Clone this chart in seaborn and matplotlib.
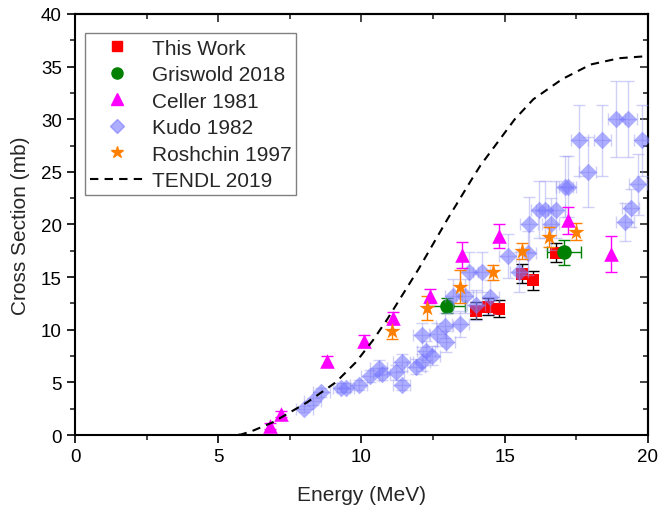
import numpy as np
import pandas as pd
import seaborn as sns
import matplotlib.pyplot as plt
from matplotlib.lines import Line2D
from matplotlib.ticker import MultipleLocator

# data
this_e = [14.0, 14.4, 14.8, 15.6, 16.0, 16.8]
this_s = [11.8, 12.2, 12.0, 15.3, 14.7, 17.3]
this_err = [0.8, 0.8, 0.8, 0.9, 0.9, 0.9]

gris_e = [12.97, 17.08]
gris_s = [12.3, 17.35]
gris_xerr = [0.65, 0.6]
gris_err = [0.7, 1.2]

celler_e = [6.8, 7.2, 8.8, 10.1, 11.1, 12.4, 13.5, 14.8, 17.2, 18.7]
celler_s = [0.85, 2.0, 7.05, 8.95, 11.1, 13.2, 17.1, 18.9, 20.4, 17.2]
celler_err = [0.3, 0.3, 0.45, 0.55, 0.55, 0.7, 1.2, 1.15, 1.3, 1.7]

kudo_e = [8.0, 8.3, 8.6, 9.3, 9.45, 9.9, 10.3, 10.6, 10.7, 11.2, 11.4, 11.4,
          11.9, 12.1, 12.25, 12.45, 12.1, 12.65, 12.95, 12.9, 13.45, 13.2, 13.6,
          14.0, 13.75, 14.2, 14.5, 15.1, 15.5, 15.8, 15.85, 16.2, 16.4, 16.8,
          16.6, 17.1, 17.2, 17.6, 17.9, 18.4, 18.9, 19.3, 19.8, 19.65, 19.4, 19.2]
kudo_s = [2.5, 3.2, 4.05, 4.5, 4.5, 4.75, 5.6, 6.4, 5.8, 5.95, 4.75, 6.9,
          6.5, 6.9, 8.0, 7.55, 9.5, 9.55, 8.85, 10.4, 10.55, 13.2, 13.2,
          12.35, 15.45, 15.45, 13.1, 17.0, 15.45, 17.3, 20.0, 21.4, 21.4, 21.4,
          20.05, 23.6, 23.6, 28.0, 25.0, 28.0, 30.0, 30.0, 28.0, 23.8, 21.6, 20.2]
kudo_err = [0.3, 0.35, 0.4, 0.4, 0.4, 0.45, 0.6, 0.7, 0.6, 0.7, 0.5, 0.8,
            0.7, 0.8, 0.9, 0.9, 1.1, 1.1, 1.0, 1.2, 1.2, 1.6, 1.6,
            1.4, 1.9, 1.9, 1.6, 2.1, 1.9, 2.1, 2.6, 2.7, 2.7, 2.7,
            2.5, 2.9, 2.9, 3.4, 3.3, 3.4, 3.6, 3.6, 3.4, 2.9, 1.8, 1.8]
kudo_xerr = 0.3

rosh_e = [11.05, 12.3, 13.45, 14.6, 15.6, 16.55, 17.5]
rosh_s = [9.9, 12.1, 14.1, 15.45, 17.5, 18.8, 19.3]
rosh_err = [0.8, 1.15, 1.6, 0.7, 0.75, 0.95, 0.8]

tendl_e = [5.2, 5.5, 5.8, 6.2, 6.9, 8.1, 9.1, 9.8, 10.4, 10.9, 12.0, 13.0,
           13.85, 14.15, 15.35, 16.0, 17.0, 18.0, 19.0, 20.0]
tendl_s = [0.0, 0.0, 0.05, 0.4, 1.2, 3.1, 5.0, 6.9, 9.0, 11.0, 15.8, 20.5,
           24.3, 25.6, 30.0, 31.9, 33.8, 35.2, 35.8, 36.0]

sns.set_style("ticks")
plt.rcParams['font.family'] = ['Liberation Sans', 'DejaVu Sans']

fig = plt.figure(figsize=(6.68, 5.06), dpi=100)
ax = fig.add_axes([0.1123, 0.1383, 0.8577, 0.8321])

kudo_col = '#7878ff'
# error bars
ax.errorbar(this_e, this_s, yerr=this_err, fmt='none', ecolor='black', elinewidth=1, capsize=4, zorder=2)
ax.errorbar(gris_e, gris_s, xerr=gris_xerr, yerr=gris_err, fmt='none', ecolor='#008000', elinewidth=1, capsize=4, zorder=2)
ax.errorbar(kudo_e, kudo_s, xerr=kudo_xerr, yerr=kudo_err, fmt='none', ecolor='#9a9af0', alpha=0.45,
            elinewidth=1, capsize=4, zorder=3)
ax.errorbar(celler_e, celler_s, yerr=celler_err, fmt='none', ecolor='#ff00ff', elinewidth=1, capsize=4, zorder=4)
ax.errorbar(rosh_e, rosh_s, yerr=rosh_err, fmt='none', ecolor='#ff8000', elinewidth=1, capsize=4, zorder=4)

# markers
sns.scatterplot(x=this_e, y=this_s, marker='s', color='#ff0000', s=80, linewidth=0, ax=ax, zorder=2)
sns.scatterplot(x=gris_e, y=gris_s, marker='o', color='#008000', s=110, linewidth=0, ax=ax, zorder=2)
sns.scatterplot(x=kudo_e, y=kudo_s, marker='D', color=kudo_col, alpha=0.6, s=80, linewidth=0, ax=ax, zorder=3)
sns.scatterplot(x=celler_e, y=celler_s, marker='^', color='#ff00ff', s=110, linewidth=0, ax=ax, zorder=4)
sns.scatterplot(x=rosh_e, y=rosh_s, marker='*', color='#ff8000', s=150, linewidth=0, ax=ax, zorder=4)

tendl = pd.DataFrame({'E': tendl_e, 'S': tendl_s})
sns.lineplot(data=tendl, x='E', y='S', color='black', linewidth=1.5, linestyle=(0, (4, 3)), ax=ax, zorder=5)

ax.set_xlim(0, 20)
ax.set_ylim(0, 40)
ax.xaxis.set_major_locator(MultipleLocator(5))
ax.xaxis.set_minor_locator(MultipleLocator(2.5))
ax.yaxis.set_major_locator(MultipleLocator(5))
ax.yaxis.set_minor_locator(MultipleLocator(2.5))
ax.tick_params(which='major', direction='out', length=6, width=1.2, labelsize=13.5, colors='black')
ax.tick_params(which='minor', direction='out', length=3.5, width=1.2)
for sp in ax.spines.values():
    sp.set_linewidth(1.5)
    sp.set_color('black')

top = ax.secondary_xaxis('top')
top.xaxis.set_major_locator(MultipleLocator(5))
top.xaxis.set_minor_locator(MultipleLocator(2.5))
top.tick_params(which='major', direction='in', length=6, width=1.2, labeltop=False)
top.tick_params(which='minor', direction='in', length=3.5, width=1.2)
right = ax.secondary_yaxis('right')
right.yaxis.set_major_locator(MultipleLocator(5))
right.yaxis.set_minor_locator(MultipleLocator(2.5))
right.tick_params(which='major', direction='in', length=6, width=1.2, labelright=False)
right.tick_params(which='minor', direction='in', length=3.5, width=1.2)
for sec in (top, right):
    for sp in sec.spines.values():
        sp.set_linewidth(1.5)

ax.set_xlabel('Energy (MeV)', fontsize=15, labelpad=14)
ax.set_ylabel('Cross Section (mb)', fontsize=15, labelpad=8)

handles = [
    Line2D([], [], marker='s', color='#ff0000', linestyle='none', markersize=7),
    Line2D([], [], marker='o', color='#008000', linestyle='none', markersize=8),
    Line2D([], [], marker='^', color='#ff00ff', linestyle='none', markersize=8),
    Line2D([], [], marker='D', color=kudo_col, alpha=0.6, linestyle='none', markersize=7),
    Line2D([], [], marker='*', color='#ff8000', linestyle='none', markersize=9),
    Line2D([], [], color='black', linewidth=1.5, linestyle=(0, (4, 3))),
]
labels = ['This Work', 'Griswold 2018', 'Celler 1981', 'Kudo 1982', 'Roshchin 1997', 'TENDL 2019']
leg = ax.legend(handles, labels, loc='upper left', bbox_to_anchor=(0.01, 0.964), fontsize=15,
                frameon=True, fancybox=False, edgecolor='#808080', framealpha=1,
                handlelength=2.6, handletextpad=0.35, labelspacing=0.36, borderpad=0.25,
                borderaxespad=0.2)
leg.get_frame().set_linewidth(1.0)

fig.savefig('out.png', dpi=100)
